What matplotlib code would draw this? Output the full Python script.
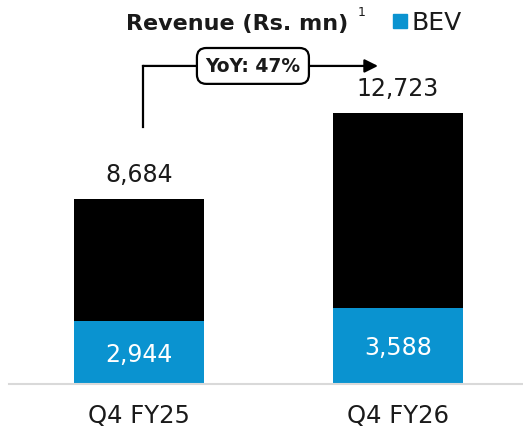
import matplotlib
matplotlib.use("Agg")
import matplotlib.pyplot as plt
from matplotlib.patches import Rectangle

categories = ["Q4 FY25", "Q4 FY26"]
total_revenue = [8684, 12723]
bev_revenue = [2944, 3588]
yoy_label = "YoY: 47%"

BLUE = "#0A93D0"
plt.rcParams['font.family'] = ['DejaVu Sans']

fig = plt.figure(figsize=(5.23, 4.35), dpi=100)
ax = fig.add_axes([9/523, 50/435, 514/523, 385/435])

x = [0, 1]
other = [t - b for t, b in zip(total_revenue, bev_revenue)]
ax.bar(x, bev_revenue, width=0.502, color=BLUE, zorder=2)
ax.bar(x, other, bottom=bev_revenue, width=0.502, color="black", zorder=2)

ax.set_xlim(-0.502, 1.483)
ax.set_ylim(0, 18072)

for xi, t, b in zip(x, total_revenue, bev_revenue):
    ax.text(xi, t + 1170, f"{t:,}", ha="center", va="center", fontsize=17, color="#1a1a1a")
    ax.text(xi, b / 2 - 80, f"{b:,}", ha="center", va="center", fontsize=17, color="white")

for s in ["top", "right", "left"]:
    ax.spines[s].set_visible(False)
ax.spines["bottom"].set_color("#d9d9d9")
ax.spines["bottom"].set_linewidth(1.5)
ax.set_yticks([])
ax.set_xticks(x)
ax.set_xticklabels(categories, fontsize=17.5, color="#1a1a1a")
ax.tick_params(axis="x", length=0, pad=14)

# YoY arrow
y_low = 12066
y_h = 14930
ax.plot([0.015, 0.015], [y_low, y_h], color="black", lw=1.6, clip_on=False, zorder=3,
        solid_capstyle="projecting")
ax.annotate("", xy=(0.923, y_h), xytext=(0.015, y_h),
            arrowprops=dict(arrowstyle="-|>", color="black", lw=1.6,
                            mutation_scale=20, shrinkA=0, shrinkB=0),
            annotation_clip=False, zorder=3)
ax.text(0.44, y_h, yoy_label, ha="center", va="center", fontsize=13.5, fontweight="bold",
        color="#1a1a1a", zorder=4,
        bbox=dict(boxstyle="round,pad=0.45,rounding_size=0.5", fc="white", ec="black", lw=1.6))

# Title and legend
fig.text(237/523, 1 - 24/435, "Revenue (Rs. mn)", ha="center", va="center",
         fontsize=16, fontweight="bold", color="#1a1a1a")
fig.text(362/523, 1 - 12/435, "1", ha="center", va="center", fontsize=9, color="#1a1a1a")
fig.patches.append(Rectangle((393/523, 1 - 29/435), 14/523, 14/435, transform=fig.transFigure,
                             color=BLUE, figure=fig))
fig.text(411/523, 1 - 23/435, "BEV", ha="left", va="center", fontsize=18, color="#1a1a1a")

fig.savefig("out.png", dpi=100)
